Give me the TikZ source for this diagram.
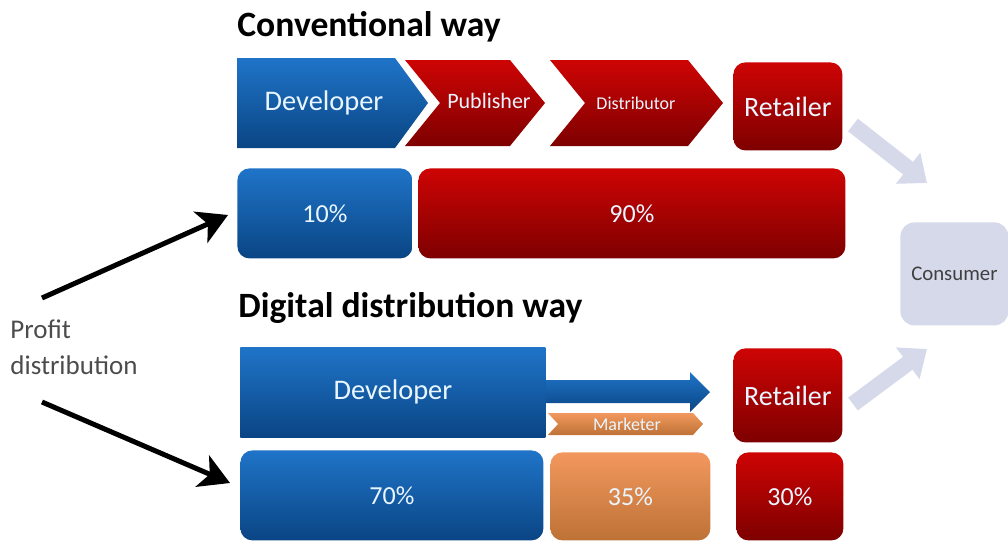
\documentclass[tikz,border=0pt]{standalone}
\usepackage{fontspec}
\setmainfont{Carlito}
\usetikzlibrary{arrows.meta,positioning}
\definecolor{devtop}{HTML}{1F74C8}
\definecolor{devbot}{HTML}{0A4584}
\definecolor{redtop}{HTML}{CE0404}
\definecolor{redbot}{HTML}{7E0000}
\definecolor{ortop}{HTML}{F2985E}
\definecolor{orbot}{HTML}{BE7236}
\definecolor{lav}{HTML}{D5D9EA}
\definecolor{lbl}{HTML}{EAF6FF}
\tikzset{
  box/.style={anchor=north west, inner sep=0pt, text=lbl, rounded corners=6pt},
  bluebox/.style={box, top color=devtop, bottom color=devbot},
  redbox/.style={box, top color=redtop, bottom color=redbot},
  orbox/.style={box, top color=ortop, bottom color=orbot},
  title/.style={anchor=base west, inner sep=0pt, font=\fontsize{17.8pt}{20pt}\selectfont\bfseries},
  profit/.style={-{Stealth[length=15pt,width=17pt,inset=4pt]}, line width=2.5pt, black},
  toconsumer/.style={-{Triangle[length=12pt,width=19pt]}, line width=8pt, lav}
}
\begin{document}
\begin{tikzpicture}[x=0.5pt, y=-0.5pt]
\useasboundingbox (0,0) rectangle (1008,542);

% conventional way
\node[title] (t1) at (237,36) {Conventional way};
\shade[top color=devtop, bottom color=devbot] (237,58) -- (395,58) -- (428,103) -- (395,148) -- (237,148) -- cycle;
\shade[top color=redtop, bottom color=redbot] (405,60) -- (510,60) -- (545,103) -- (510,146) -- (405,146) -- (440,103) -- cycle;
\shade[top color=redtop, bottom color=redbot] (550,60) -- (688,60) -- (723,103) -- (688,146) -- (550,146) -- (585,103) -- cycle;
\node[text=lbl, font=\fontsize{14.2pt}{16pt}\selectfont] (dev1) at (324,103) {Developer};
\node[text=lbl, font=\fontsize{11pt}{13pt}\selectfont] (pub) at (489,101) {Publisher};
\node[text=lbl, font=\fontsize{9pt}{11pt}\selectfont] (dist) at (636,103) {Distributor};
\node[redbox, minimum width=54.5pt, minimum height=44pt, font=\fontsize{14pt}{16pt}\selectfont] (ret1) at (733,62) {Retailer};
\node[bluebox, minimum width=87.5pt, minimum height=45pt, font=\fontsize{13pt}{15pt}\selectfont] (p10) at (237,168) {10\%};
\node[redbox, minimum width=213.5pt, minimum height=45pt, font=\fontsize{13pt}{15pt}\selectfont] (p90) at (418,168) {90\%};

% consumer
\node[box, fill=lav, text=black!75, rounded corners=7pt, minimum width=54pt, minimum height=51.5pt, font=\fontsize{10.4pt}{12pt}\selectfont] (cons) at (900,222) {Consumer};
\coordinate (c1a) at (853,125);
\coordinate (c1b) at (927,183);
\coordinate (c2a) at (853,404);
\coordinate (c2b) at (927,349);
\draw[toconsumer] (c1a) -- (c1b);
\draw[toconsumer] (c2a) -- (c2b);

% profit distribution
\node[anchor=base west, inner sep=0pt, align=left, text=black!70, font=\fontsize{13.5pt}{18pt}\selectfont] (pd) at (10,374) {Profit\\distribution};
\coordinate (a1) at (42,298);
\coordinate (b1) at (228,215);
\coordinate (a2) at (42,402);
\coordinate (b2) at (230,483);
\draw[profit] (a1) -- (b1);
\draw[profit] (a2) -- (b2);

% digital distribution way
\node[title] (t2) at (238,317) {Digital distribution way};
\node[bluebox, rounded corners=0pt, minimum width=152.5pt, minimum height=45pt, font=\fontsize{14.2pt}{16pt}\selectfont] (dev2) at (240,347) {Developer};
\shade[top color=devtop, bottom color=devbot] (dev2.north east |- 0,380) -- (690,380) -- (690,372) -- (710,392) -- (690,412) -- (690,403) -- (dev2.north east |- 0,403) -- cycle;
\shade[top color=ortop, bottom color=orbot] (548,413) -- (693,413) -- (703,424) -- (693,435) -- (548,435) -- (558,424) -- cycle;
\node[text=lbl, font=\fontsize{9pt}{11pt}\selectfont] (mkt) at (627,424) {Marketer};
\node[redbox, minimum width=54.5pt, minimum height=47pt, font=\fontsize{14pt}{16pt}\selectfont] (ret2) at (733,348) {Retailer};
\node[bluebox, minimum width=151.5pt, minimum height=45pt, font=\fontsize{13pt}{15pt}\selectfont] (p70) at (240,450) {70\%};
\node[orbox, minimum width=80pt, minimum height=44pt, font=\fontsize{13pt}{15pt}\selectfont] (p35) at (550,452) {35\%};
\node[redbox, minimum width=53.5pt, minimum height=44pt, font=\fontsize{13pt}{15pt}\selectfont] (p30) at (736,452) {30\%};
\end{tikzpicture}
\end{document}
